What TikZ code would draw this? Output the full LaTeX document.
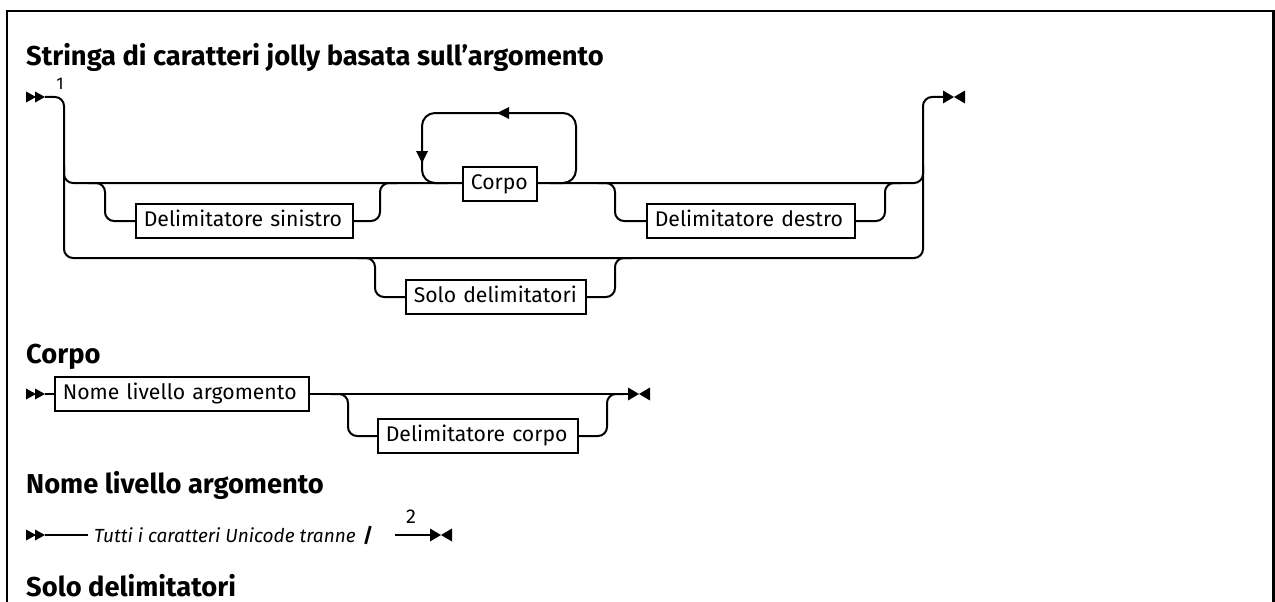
\documentclass[tikz,border=0pt]{standalone}
\usepackage{fontspec}
\setmainfont{Fira Sans}
\begin{document}
\begin{tikzpicture}[x=1pt,y=-1pt,
  track/.style={line width=2pt, rounded corners=9pt},
  looptrack/.style={line width=2pt, rounded corners=13pt},
  termbox/.style={draw, line width=1.6pt, minimum height=34pt, inner xsep=8pt, inner ysep=0pt,
    align=left, font=\fontsize{21.2}{24}\selectfont, text height=15pt, text depth=4pt},
  head/.style={font=\bfseries\fontsize{27.3}{31}\selectfont, anchor=base west, inner sep=0pt},
  note/.style={font=\fontsize{17}{20}\selectfont, inner sep=0pt, anchor=base},
  startmark/.pic={\fill (0,-5.5) -- (10,0) -- (0,5.5) -- cycle; \fill (9,-5.5) -- (19,0) -- (9,5.5) -- cycle;},
  endmark/.pic={\fill (0,-6.5) -- (11,0) -- (0,6.5) -- cycle; \fill (22,-6.5) -- (11,0) -- (22,6.5) -- cycle;},
]
\useasboundingbox (0,0) rectangle (1275,602);
% frame
\draw[line width=2.5pt] (7,602) -- (7,11) -- (1273.5,11) -- (1273.5,602);

% ---------- main diagram ----------
\node[head] (t1) at (26,66) {Stringa di caratteri jolly basata sull'argomento};
\pic at (26,97) {startmark};
\node[note] (n1) at (60,89) {1};
\coordinate (s1) at (45,97);
\coordinate (e1) at (943,97);
\pic at (943,97) {endmark};

\node[termbox, text width=201pt, anchor=west] (ls) at (135,221) {\mbox{Delimitatore sinistro}};
\node[termbox, text width=58pt, anchor=west, inner xsep=8pt] (co) at (462,184) {\mbox{Corpo}};
\node[termbox, text width=192pt, anchor=west] (rd) at (646,221) {\mbox{Delimitatore destro}};
\node[termbox, text width=164pt, anchor=west] (sd) at (405,297) {\mbox{Solo delimitatori}};

% outer frame tracks
\draw[track] (s1) -- (64,97) -- (64,258) -- (923,258) -- (923,97) -- (e1);
% main track
\draw[track] (64,165) -- (64,183) -- (co.west |- 0,183);
\draw[track] (co.east |- 0,183) -- (923,183) -- (923,165);
% left delimiter branch
\draw[track] (88,183) -- (105,183) -- (105,221) -- (ls.west);
\draw[track] (ls.east) -- (380,221) -- (380,183) -- (397,183);
% loop around Corpo
\draw[looptrack] (550,183) -- (576,183) -- (576,113) -- (422,113) -- (422,183) -- (448,183);
\fill (497,113) -- (509,107) -- (509,119) -- cycle;
\fill (422,163) -- (416,151) -- (428,151) -- cycle;
% right delimiter branch
\draw[track] (598,183) -- (615,183) -- (615,221) -- (rd.west);
\draw[track] (rd.east) -- (885,221) -- (885,183) -- (902,183);
% solo delimitatori branch
\draw[track] (358,258) -- (375,258) -- (375,297) -- (sd.west);
\draw[track] (sd.east) -- (615,297) -- (615,258) -- (632,258);

% ---------- Corpo ----------
\node[head] (t2) at (26,363) {Corpo};
\pic at (26,394) {startmark};
\coordinate (s2) at (45,394);
\node[termbox, text width=238pt, anchor=west] (nla) at (54,394) {\mbox{Nome livello argomento}};
\node[termbox, text width=184pt, anchor=west] (dc) at (377,436) {\mbox{Delimitatore corpo}};
\coordinate (e2) at (628,394);
\pic at (628,394) {endmark};
\draw[track] (s2) -- (nla.west);
\draw[track] (nla.east) -- (e2);
\draw[track] (331,394) -- (348,394) -- (348,436) -- (dc.west);
\draw[track] (dc.east) -- (607,436) -- (607,394) -- (624,394);

% ---------- Nome livello argomento ----------
\node[head] (t3) at (26,493) {Nome livello argomento};
\pic at (26,535) {startmark};
\coordinate (s3) at (45,535);
\node[font=\itshape\fontsize{19}{22}\selectfont, anchor=west, inner sep=0pt] (uc) at (94,535) {Tutti i caratteri Unicode tranne};
\node[font=\bfseries\fontsize{20}{24}\selectfont, inner sep=0pt] (sl) at (368,535) {/};
\coordinate (l3) at (395,535);
\coordinate (e3) at (430,535);
\node[note, font=\fontsize{20}{22}\selectfont] (n2) at (411,523) {2};
\draw[line width=2pt] (s3) -- (88,535);
\draw[line width=2pt] (l3) -- (e3);
\pic at (430,535) {endmark};

% ---------- Solo delimitatori ----------
\node[head] (t4) at (26,596) {Solo delimitatori};
\end{tikzpicture}
\end{document}
